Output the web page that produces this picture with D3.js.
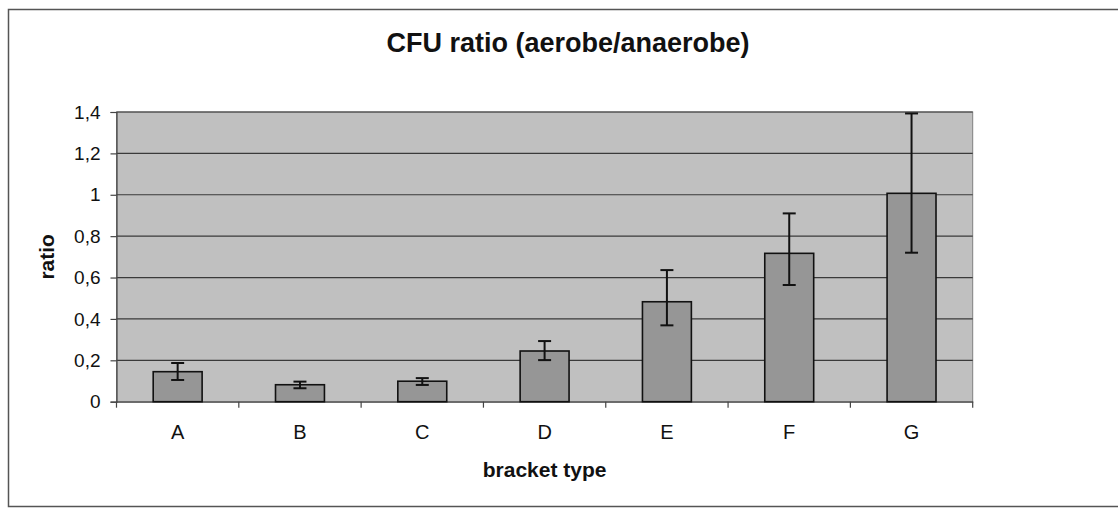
<!DOCTYPE html>
<html>
<head>
<meta charset="utf-8">
<script src="https://cdn.jsdelivr.net/npm/d3@7"></script>
<style>
  body { margin: 0; background: #fff; }
  text { font-family: "Liberation Sans", Arial, sans-serif; }
</style>
</head>
<body>
<div id="chart"></div>
<script>
// data
var categories = ["A", "B", "C", "D", "E", "F", "G"];
var ratios = [0.145, 0.082, 0.099, 0.245, 0.483, 0.717, 1.007];
var errLow = [0.105, 0.065, 0.081, 0.201, 0.369, 0.564, 0.720];
var errHigh = [0.187, 0.097, 0.114, 0.293, 0.636, 0.910, 1.393];
var yTicks = [0, 0.2, 0.4, 0.6, 0.8, 1, 1.2, 1.4];

var data = categories.map(function(c, i) {
    return {cat: c, value: ratios[i], lo: errLow[i], hi: errHigh[i]};
});

var W = 1118, H = 508;
var plotL = 116.5, plotT = 112, plotR = 972.7, plotB = 401.7;

var svg = d3.select("#chart")
            .append("svg")
            .attr("width", W)
            .attr("height", H);

// outer frame
svg.append("rect")
    .attr("x", 8.5).attr("y", 9.5)
    .attr("width", W + 10).attr("height", 497)
    .attr("fill", "none")
    .attr("stroke", "#555")
    .attr("stroke-width", 1.5);

// scales
var x = d3.scaleBand()
            .domain(categories)
            .range([plotL, plotR])
            .padding(0);

var y = d3.scaleLinear()
            .domain([0, 1.4])
            .range([plotB, plotT]);

// plot background
svg.append("rect")
    .attr("x", plotL).attr("y", plotT)
    .attr("width", plotR - plotL).attr("height", plotB - plotT)
    .attr("fill", "#c0c0c0")
    .attr("stroke", "#808080")
    .attr("stroke-width", 1);

// gridlines
svg.append("g")
    .selectAll("line")
    .data(yTicks.filter(function(d) { return d > 0; }))
    .enter()
    .append("line")
    .attr("x1", plotL).attr("x2", plotR)
    .attr("y1", function(d) { return y(d); })
    .attr("y2", function(d) { return y(d); })
    .attr("stroke", "#3a3a3a")
    .attr("stroke-width", 1.2);

// y axis
var yAxis = svg.append("g")
    .attr("transform", "translate(" + plotL + ",0)")
    .call(d3.axisLeft(y)
        .tickValues(yTicks)
        .tickSize(6)
        .tickPadding(10)
        .tickFormat(function(d) { return String(d).replace(".", ","); }));
yAxis.select(".domain").attr("stroke", "#444").attr("stroke-width", 1.2);
yAxis.selectAll(".tick line").attr("stroke", "#444").attr("stroke-width", 1.2);
yAxis.selectAll("text")
    .style("font-family", "Liberation Sans, Arial, sans-serif")
    .style("font-size", "19px")
    .attr("fill", "#111");

// x axis (ticks between categories)
var xAxis = svg.append("g")
    .attr("transform", "translate(0," + plotB + ")")
    .call(d3.axisBottom(x).tickSize(0).tickPadding(23));
xAxis.select(".domain").attr("stroke", "#444").attr("stroke-width", 1.2);
xAxis.selectAll("text")
    .style("font-family", "Liberation Sans, Arial, sans-serif")
    .style("font-size", "20px")
    .attr("fill", "#111");

var bounds = categories.map(function(c) { return x(c); }).concat([plotR]);
svg.append("g")
    .selectAll("line")
    .data(bounds)
    .enter()
    .append("line")
    .attr("x1", function(d) { return d; })
    .attr("x2", function(d) { return d; })
    .attr("y1", plotB).attr("y2", plotB + 6)
    .attr("stroke", "#444")
    .attr("stroke-width", 1.2);

// bars
var barW = x.bandwidth() * 0.4;
svg.append("g")
    .selectAll("rect")
    .data(data)
    .enter()
    .append("rect")
    .attr("x", function(d) { return x(d.cat) + (x.bandwidth() - barW) / 2; })
    .attr("y", function(d) { return y(d.value); })
    .attr("width", barW)
    .attr("height", function(d) { return y(0) - y(d.value); })
    .attr("fill", "#969696")
    .attr("stroke", "#111")
    .attr("stroke-width", 1.6);

// error bars
var eb = svg.append("g").attr("stroke", "#111").attr("stroke-width", 2);
var cx = function(d) { return x(d.cat) + x.bandwidth() / 2; };
eb.selectAll(".stem")
    .data(data)
    .enter()
    .append("line")
    .attr("x1", cx).attr("x2", cx)
    .attr("y1", function(d) { return y(d.lo); })
    .attr("y2", function(d) { return y(d.hi); });
eb.selectAll(".capHi")
    .data(data)
    .enter()
    .append("line")
    .attr("x1", function(d) { return cx(d) - 6.5; })
    .attr("x2", function(d) { return cx(d) + 6.5; })
    .attr("y1", function(d) { return y(d.hi); })
    .attr("y2", function(d) { return y(d.hi); });
eb.selectAll(".capLo")
    .data(data)
    .enter()
    .append("line")
    .attr("x1", function(d) { return cx(d) - 6.5; })
    .attr("x2", function(d) { return cx(d) + 6.5; })
    .attr("y1", function(d) { return y(d.lo); })
    .attr("y2", function(d) { return y(d.lo); });

// title
svg.append("text")
    .attr("x", 568)
    .attr("y", 52)
    .attr("text-anchor", "middle")
    .text("CFU ratio (aerobe/anaerobe)")
    .style("font-size", "27px")
    .style("font-weight", "bold")
    .attr("fill", "#111");

// x label
svg.append("text")
    .attr("x", (plotL + plotR) / 2)
    .attr("y", 477)
    .attr("text-anchor", "middle")
    .text("bracket type")
    .style("font-size", "21px")
    .style("font-weight", "bold")
    .attr("fill", "#111");

// y label
svg.append("text")
    .attr("transform", "translate(54," + (plotT + plotB) / 2 + ")rotate(-90)")
    .attr("text-anchor", "middle")
    .text("ratio")
    .style("font-size", "21px")
    .style("font-weight", "bold")
    .attr("fill", "#111");
</script>
</body>
</html>
